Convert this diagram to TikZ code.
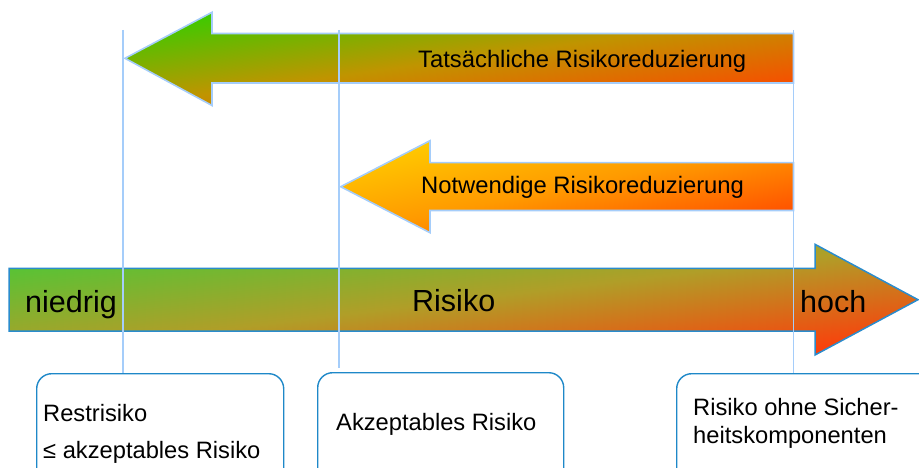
\documentclass[tikz,border=0pt]{standalone}
\usepackage{fontspec}
\setmainfont{Liberation Sans}
\begin{document}
\begin{tikzpicture}[x=1pt,y=-1pt,
  markline/.style={draw={rgb,255:red,165;green,205;blue,250},line width=1.6pt},
  redarrow/.style={draw={rgb,255:red,165;green,205;blue,250},line width=1.6pt,line join=miter},
  riskarrow/.style={draw={rgb,255:red,42;green,140;blue,205},line width=1.5pt,line join=miter},
  riskbox/.style={draw={rgb,255:red,30;green,136;blue,200},line width=1.4pt,rounded corners=15pt,
    rectangle,inner sep=0pt,anchor=north west},
  boxtext/.style={anchor=base west,inner sep=0pt,font=\fontsize{23.7}{28}\selectfont},
  arrowtext/.style={anchor=base west,inner sep=0pt,font=\fontsize{23.8}{28}\selectfont},
  scaletext/.style={anchor=base west,inner sep=0pt,font=\fontsize{30.5}{36}\selectfont},
]
\useasboundingbox (0,0) rectangle (919,468);
\clip (0,0) rectangle (919,468);

% risk scale (large right-pointing arrow); the shading angle follows the
% diagonal of the arrow's bounding box
\draw[riskarrow,
  top color={rgb,255:red,76;green,200;blue,55},
  bottom color={rgb,255:red,255;green,58;blue,10},
  middle color={rgb,255:red,176;green,158;blue,40},shading angle=6.94]
  (9,268.3) -- (815,268.3) -- (815,244.3) -- (918,299.7) -- (815,355) -- (815,331) -- (9,331) -- cycle;

% actual risk reduction
\draw[redarrow,
  top color={rgb,255:red,56;green,204;blue,0},
  bottom color={rgb,255:red,255;green,68;blue,0},
  middle color={rgb,255:red,192;green,148;blue,0},shading angle=7.94]
  (125,58.3) -- (212,12.3) -- (212,33.5) -- (793.5,33.5) -- (793.5,83) -- (212,83) -- (212,105.5) -- cycle;

% necessary risk reduction
\draw[redarrow,
  top color={rgb,255:red,255;green,204;blue,0},
  bottom color={rgb,255:red,255;green,74;blue,0},
  middle color={rgb,255:red,255;green,154;blue,0},shading angle=11.5]
  (340.7,186.7) -- (430,140.7) -- (430,162.7) -- (793.5,162.7) -- (793.5,210.5) -- (430,210.5) -- (430,232.7) -- cycle;

% labels on the arrows
\node[arrowtext] (tr) at (418,67.7) {Tatsächliche Risikoreduzierung};
\node[arrowtext] (nr) at (421,193.3) {Notwendige Risikoreduzierung};
\node[scaletext] (low) at (25,312) {niedrig};
\node[scaletext] (mid) at (412,311) {Risiko};
\node[scaletext] (high) at (800,312) {hoch};

% boxes below the scale
\node[riskbox,minimum width=247pt,minimum height=120pt] (b1) at (36,373) {};
\node[riskbox,minimum width=246pt,minimum height=120pt] (b2) at (317,372) {};
\node[riskbox,minimum width=260pt,minimum height=120pt] (b3) at (676,373) {};

\node[boxtext] (b1a) at (43,421.7) {Restrisiko};
\node[boxtext] (b1b) at (43,458) {≤ akzeptables Risiko};
\node[boxtext] (b2a) at (336,430) {Akzeptables Risiko};
\node[boxtext] (b3a) at (693,415) {Risiko ohne Sicher-};
\node[boxtext] (b3b) at (693,443) {heitskomponenten};

% marker lines
\coordinate (m1) at (123,30);
\coordinate (m2) at (339,30);
\coordinate (m3) at (793.5,30);
\draw[markline] (m1) -- (m1 |- b1.north);
\draw[markline] (m2) -- ([yshift=4pt]m2 |- b2.north);
\draw[markline] (m3) -- (m3 |- b3.north);
\end{tikzpicture}
\end{document}
